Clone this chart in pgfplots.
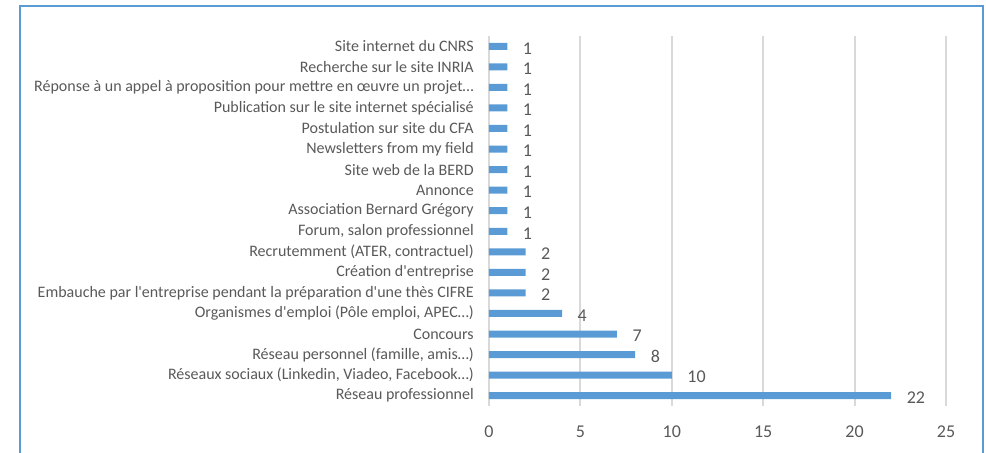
\documentclass[border=0pt]{standalone}
\usepackage{fontspec}
\setmainfont{Carlito}
\usepackage{pgfplots}
\pgfplotsset{compat=1.18}
\definecolor{barblue}{HTML}{5B9BD5}
\definecolor{txtgray}{HTML}{595959}
\definecolor{gridgray}{HTML}{D9D9D9}
\begin{document}
\begin{tikzpicture}[x=0.75pt,y=0.75pt]
\useasboundingbox (0,0) rectangle (986,453);
\begin{axis}[
  at={(489*0.75pt,47*0.75pt)}, anchor=south west,
  scale only axis, width=342.75pt, height=277.5pt,
  xbar, bar width=5.25pt,
  xmin=0, xmax=25, ymin=-0.5, ymax=17.5,
  xtick={0,5,10,15,20,25},
  ytick={0,...,17},
  yticklabels={
    Réseau professionnel,
    {Réseaux sociaux (Linkedin, Viadeo, Facebook…)},
    {Réseau personnel (famille, amis…)},
    Concours,
    {Organismes d\textquotesingle emploi (Pôle emploi, APEC…)},
    {Embauche par l\textquotesingle entreprise pendant la préparation d\textquotesingle une thès CIFRE},
    {Création d\textquotesingle entreprise},
    {Recrutemment (ATER, contractuel)},
    {Forum, salon professionnel},
    Association Bernard Grégory,
    Annonce,
    Site web de la BERD,
    Newsletters from my field,
    Postulation sur site du CFA,
    Publication sur le site internet spécialisé,
    Réponse à un appel à proposition pour mettre en œuvre un projet…,
    Recherche sur le site INRIA,
    Site internet du CNRS},
  axis line style={draw=none},
  major tick length=0pt,
  tick style={draw=none},
  xmajorgrids, major grid style={draw=gridgray, line width=1.5pt},
  /pgf/number format/assume math mode=true,
  yticklabel style={font=\fontsize{12}{14}\selectfont, text=txtgray, inner sep=0pt, anchor=east, xshift=-11.25pt},
  xticklabel style={font=\fontsize{13.5}{15}\selectfont, text=txtgray, inner sep=0pt, anchor=north, yshift=-15pt},
  nodes near coords,
  nodes near coords style={font=\fontsize{13.5}{15}\selectfont, text=txtgray, inner sep=0pt, anchor=west, xshift=11.5pt, yshift=-1.5pt},
]
\addplot[fill=barblue, draw=none] coordinates {
  (22,0) (10,1) (8,2) (7,3) (4,4) (2,5) (2,6) (2,7) (1,8) (1,9)
  (1,10) (1,11) (1,12) (1,13) (1,14) (1,15) (1,16) (1,17)
};
\end{axis}
\draw[barblue, line width=1.5pt] (20,-5) -- (20,447) -- (983,447) -- (983,-5);
\end{tikzpicture}
\end{document}
